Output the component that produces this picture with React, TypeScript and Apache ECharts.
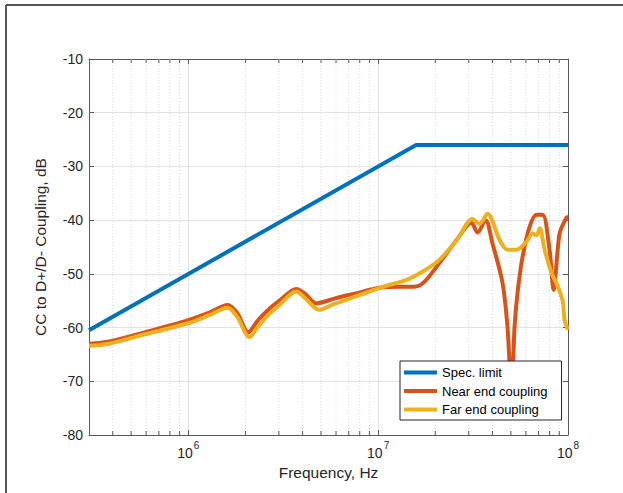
import React, { useEffect, useRef } from 'react';
import * as echarts from 'echarts';

const specFreq = [3e5, 1.585e7, 1e8];
const specDb = [-60.5, -26, -26];

const nearFreq = [
  3.0e5, 3.83e5, 6.0e5, 1.0e6, 1.29e6, 1.61e6, 1.81e6, 2.07e6, 2.31e6, 2.58e6,
  3.02e6, 3.71e6, 4.09e6, 4.73e6, 5.88e6, 7.5e6, 1.02e7, 1.3e7, 1.55e7, 1.75e7,
  2.1e7, 2.59e7, 3.1e7, 3.34e7, 3.68e7, 4.0e7, 4.52e7, 4.8e7, 5.04e7, 5.23e7,
  5.42e7, 5.76e7, 6.28e7, 6.83e7, 7.35e7, 8.0e7, 8.4e7, 9.03e7, 9.83e7, 1.0e8,
];
const nearDb = [
  -63.0, -62.6, -60.8, -58.6, -57.2, -55.8, -57.3, -60.9, -58.8, -57.0,
  -55.0, -52.8, -53.6, -55.5, -54.6, -53.7, -52.6, -52.4, -52.4, -51.5,
  -48.0, -43.7, -40.5, -42.3, -40.0, -44.3, -51.7, -59.9, -72.0, -59.9,
  -53.6, -46.9, -41.2, -39.0, -39.0, -45.6, -53.0, -42.5, -39.5, -39.4,
];

const farFreq = [
  3.0e5, 3.83e5, 6.0e5, 1.0e6, 1.29e6, 1.61e6, 1.81e6, 2.1e6, 2.31e6, 2.58e6,
  3.02e6, 3.71e6, 4.09e6, 4.9e6, 5.88e6, 7.5e6, 1.02e7, 1.41e7, 1.71e7, 2.1e7,
  2.59e7, 3.14e7, 3.42e7, 3.77e7, 4.36e7, 4.8e7, 5.36e7, 6.05e7, 6.51e7, 6.83e7,
  7.09e7, 7.53e7, 8.2e7, 8.7e7, 9.37e7, 9.6e7, 1.0e8,
];
const farDb = [
  -63.4, -63.0, -61.2, -59.2, -57.7, -56.3, -58.0, -61.8, -60.0, -58.0,
  -55.8, -53.3, -54.4, -56.7, -55.6, -54.3, -52.6, -51.1, -49.6, -47.4,
  -43.7, -39.8, -40.7, -38.8, -43.7, -45.5, -45.5, -44.0, -42.5, -42.8,
  -41.5, -45.5, -49.9, -51.8, -55.0, -58.6, -60.4,
];

const minorFreq = [
  4e5, 5e5, 6e5, 7e5, 8e5, 9e5,
  2e6, 3e6, 4e6, 5e6, 6e6, 7e6, 8e6, 9e6,
  2e7, 3e7, 4e7, 5e7, 6e7, 7e7, 8e7, 9e7,
];

const seriesNames = ['Spec. limit', 'Near end coupling', 'Far end coupling'];
const colors = ['#0072BD', '#D95319', '#EDB120'];

const X_MIN = 3e5;
const X_MAX = 1e8;
const Y_MIN = -80;
const Y_MAX = -10;

const pair = (xs: number[], ys: number[]) => xs.map((x, i) => [x, ys[i]]);

export default function App() {
  const ref = useRef<HTMLDivElement>(null);
  useEffect(() => {
    document.body.style.margin = '0';
    const chart = echarts.init(ref.current!, null, { renderer: 'svg' });
    const axisColor = '#5a5a5a';
    const labelColor = '#262626';
    const font = 'Liberation Sans, Arial, sans-serif';
    chart.setOption({
      animation: false,
      backgroundColor: '#ffffff',
      textStyle: { fontFamily: font },
      grid: { left: 89, right: 55, top: 59, bottom: 58 },
      legend: {
        data: seriesNames,
        orient: 'vertical',
        left: 400,
        top: 361,
        icon: 'rect',
        itemWidth: 33,
        itemHeight: 4,
        itemGap: 5.5,
        padding: [5, 14, 4, 4],
        backgroundColor: '#ffffff',
        borderColor: '#262626',
        borderWidth: 1,
        borderRadius: 0,
        textStyle: { fontSize: 13, color: '#000', fontFamily: font },
      },
      xAxis: [
        {
          type: 'log',
          logBase: 10,
          min: X_MIN,
          max: X_MAX,
          name: 'Frequency, Hz',
          nameLocation: 'middle',
          nameGap: 27,
          nameTextStyle: { fontSize: 15.5, color: labelColor, fontFamily: font },
          axisLine: { show: true, lineStyle: { color: axisColor, width: 1 } },
          axisTick: { show: true, inside: true, length: 5, lineStyle: { color: axisColor } },
          splitLine: { show: true, lineStyle: { color: '#e2e2e2', width: 1 } },
          minorTick: { show: false },
          axisLabel: {
            margin: 5,
            color: labelColor,
            formatter: (v: number) => {
              const l = Math.log10(v);
              const e = Math.round(l);
              if (Math.abs(l - e) > 1e-6) return '';
              return `{a|10}{b|${e}}`;
            },
            rich: {
              a: { fontSize: 14, color: labelColor, fontFamily: font, verticalAlign: 'bottom', lineHeight: 20 },
              b: { fontSize: 10, color: labelColor, fontFamily: font, verticalAlign: 'top', lineHeight: 12, padding: [0, 0, 0, 1] },
            },
          },
        },
        {
          type: 'log',
          logBase: 10,
          min: X_MIN,
          max: X_MAX,
          position: 'top',
          axisLine: { show: true, lineStyle: { color: axisColor, width: 1 } },
          axisTick: { show: true, inside: true, length: 5, lineStyle: { color: axisColor } },
          axisLabel: { show: false },
          splitLine: { show: false },
        },
      ],
      yAxis: [
        {
          type: 'value',
          min: Y_MIN,
          max: Y_MAX,
          interval: 10,
          name: 'CC to D+/D- Coupling, dB',
          nameLocation: 'middle',
          nameGap: 41,
          nameTextStyle: { fontSize: 15.5, color: labelColor, fontFamily: font },
          axisLine: { show: true, lineStyle: { color: axisColor, width: 1 } },
          axisTick: { show: true, inside: true, length: 5, lineStyle: { color: axisColor } },
          splitLine: { show: true, lineStyle: { color: '#e2e2e2', width: 1 } },
          axisLabel: { margin: 6, fontSize: 14, color: labelColor, fontFamily: font },
        },
        {
          type: 'value',
          min: Y_MIN,
          max: Y_MAX,
          interval: 10,
          position: 'right',
          axisLine: { show: true, lineStyle: { color: axisColor, width: 1 } },
          axisTick: { show: true, inside: true, length: 5, lineStyle: { color: axisColor } },
          axisLabel: { show: false },
          splitLine: { show: false },
        },
      ],
      graphic: [
        { type: 'line', shape: { x1: 6, y1: 5, x2: 6, y2: 493 }, style: { stroke: '#555', lineWidth: 2 } },
        { type: 'line', shape: { x1: 6, y1: 5, x2: 623, y2: 5 }, style: { stroke: '#555', lineWidth: 2 } },
      ],
      series: [
        {
          type: 'custom',
          name: 'minor',
          silent: true,
          xAxisIndex: 0,
          yAxisIndex: 0,
          data: minorFreq.map((f) => [f, Y_MIN]),
          encode: { x: 0, y: 1 },
          z: 1,
          renderItem: (params: any, api: any) => {
            const f = api.value(0);
            const b = api.coord([f, Y_MIN]);
            const t = api.coord([f, Y_MAX]);
            return {
              type: 'group',
              children: [
                { type: 'line', shape: { x1: b[0], y1: b[1], x2: t[0], y2: t[1] }, style: { stroke: '#dadada', lineWidth: 1, lineDash: [1, 2] } },
                { type: 'line', shape: { x1: b[0], y1: b[1], x2: b[0], y2: b[1] - 4 }, style: { stroke: axisColor, lineWidth: 1 } },
                { type: 'line', shape: { x1: t[0], y1: t[1], x2: t[0], y2: t[1] + 4 }, style: { stroke: axisColor, lineWidth: 1 } },
              ],
            };
          },
        },
        {
          type: 'line',
          name: seriesNames[0],
          data: pair(specFreq, specDb),
          showSymbol: false,
          symbol: 'none',
          lineStyle: { color: colors[0], width: 4 },
          itemStyle: { color: colors[0] },
          z: 3,
        },
        {
          type: 'line',
          name: seriesNames[1],
          data: pair(nearFreq, nearDb),
          showSymbol: false,
          symbol: 'none',
          smooth: 0.3,
          lineStyle: { color: colors[1], width: 4 },
          itemStyle: { color: colors[1] },
          z: 3,
        },
        {
          type: 'line',
          name: seriesNames[2],
          data: pair(farFreq, farDb),
          showSymbol: false,
          symbol: 'none',
          smooth: 0.3,
          lineStyle: { color: colors[2], width: 4 },
          itemStyle: { color: colors[2] },
          z: 3,
        },
      ],
    });
    return () => chart.dispose();
  }, []);
  return <div ref={ref} style={{ width: 623, height: 493 }} />;
}
